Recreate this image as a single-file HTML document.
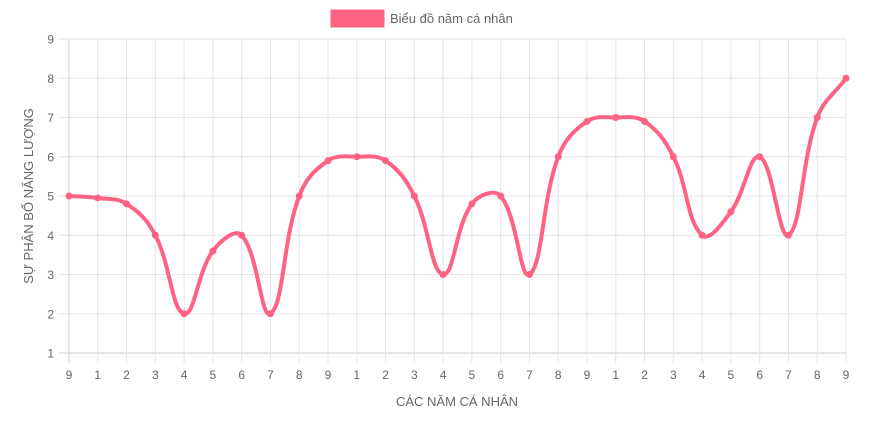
<!DOCTYPE html>
<html><head><meta charset="utf-8"><style>
body{margin:0;background:#fff;font-family:"Liberation Sans",sans-serif}
svg text{font-family:"Liberation Sans",sans-serif;fill:#666}
</style></head><body>
<svg width="881" height="422" xmlns="http://www.w3.org/2000/svg" id="c">
<g>
<rect x="331" y="10" width="53" height="17" fill="#ff6384" stroke="#ff6384"/>
<text x="390" y="23" font-size="13">Biểu đồ năm cá nhân</text>
</g>
<g id="grid"></g>
<text transform="translate(33,196) rotate(-90)" text-anchor="middle" font-size="13">SỰ PHÂN BỔ NĂNG LƯỢNG</text>
<text x="457" y="406" text-anchor="middle" font-size="13">CÁC NĂM CÁ NHÂN</text>
<g id="series"></g>
</svg>
<script>
const categories=["9","1","2","3","4","5","6","7","8","9","1","2","3","4","5","6","7","8","9","1","2","3","4","5","6","7","8","9"];
const values=[5,4.95,4.8,4,2,3.6,4,2,5,5.9,6,5.9,5,3,4.8,5,3,6,6.9,7,6.9,6,4,4.6,6,4,7,8];
const yTicks=[1,2,3,4,5,6,7,8,9];
const L=69,R=846,T=39,B=353,yMin=1,yMax=9;
const NS="http://www.w3.org/2000/svg";
const xs=i=>L+i*(R-L)/(categories.length-1);
const ys=v=>B-(v-yMin)/(yMax-yMin)*(B-T);
const grid=document.getElementById('grid'),ser=document.getElementById('series');
function mk(tag,at,par){const e=document.createElementNS(NS,tag);for(const k in at)e.setAttribute(k,at[k]);par.appendChild(e);return e;}
yTicks.forEach(t=>{const y=ys(t);
const l=mk('line',{x1:59,x2:R,y1:y,y2:y,stroke:t===yMin?'#ccc':'#e5e5e5'},grid);


const tx=mk('text',{x:54,y:y+4.5,'text-anchor':'end','font-size':12},grid);tx.textContent=t;

});
categories.forEach((c,i)=>{const x=xs(i);
const l=mk('line',{x1:x,x2:x,y1:T,y2:B+10,stroke:i===0?'#ccc':'#e5e5e5'},grid);


const tx=mk('text',{x:x,y:379,'text-anchor':'middle','font-size':12},grid);tx.textContent=c;

});
const P=values.map((v,i)=>({x:xs(i),y:ys(v)}));
const t=0.4;const cp=P.map((p,i)=>{const a=P[i-1]||p,b=P[i+1]||p;
const d01=Math.hypot(p.x-a.x,p.y-a.y),d12=Math.hypot(b.x-p.x,b.y-p.y);
let fa=d01/(d01+d12)||0,fb=d12/(d01+d12)||0;fa*=t;fb*=t;
return {px:p.x-fa*(b.x-a.x),py:p.y-fa*(b.y-a.y),nx:p.x+fb*(b.x-a.x),ny:p.y+fb*(b.y-a.y)};});
let d=`M${P[0].x},${P[0].y}`;
for(let i=1;i<P.length;i++)d+=` C${cp[i-1].nx},${cp[i-1].ny} ${cp[i].px},${cp[i].py} ${P[i].x},${P[i].y}`;
const path=mk('path',{d:d,fill:'none',stroke:'#ff6384','stroke-width':4},ser);


P.forEach(p=>{const c=mk('circle',{cx:p.x,cy:p.y,r:3.5,fill:'#ff6384'},ser);

});
</script>
</body></html>
